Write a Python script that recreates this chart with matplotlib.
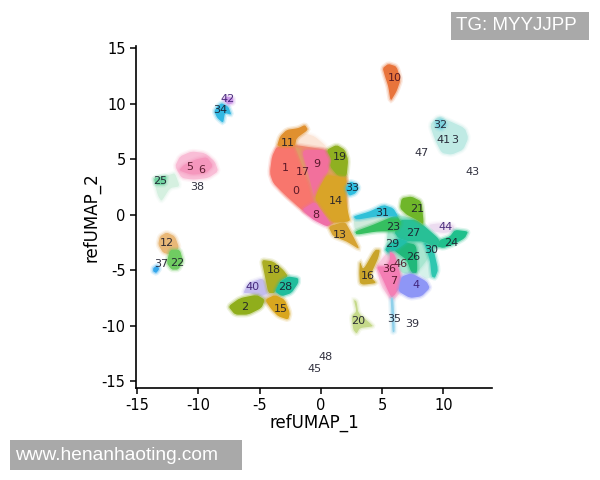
import matplotlib
matplotlib.use('Agg')
import matplotlib.pyplot as plt
from matplotlib.path import Path
from matplotlib.patches import PathPatch, Rectangle

plt.rcParams['axes.unicode_minus'] = False

# cluster outlines (refUMAP_1, refUMAP_2)
c0 = [(-3.6, 6.15), (-4.0, 5.25), (-4.17, 3.75), (-3.9, 2.85), (-3.08, 1.95), (-1.58, 0.45), (-0.9, 0), (-0.49, 1.2), (-0.9, 2.85), (-1.58, 4.65), (-2.12, 6.15)]
c11 = [(-3.6, 6.15), (-3.35, 7.05), (-2.8, 7.65), (-1.85, 7.8), (-1.3, 8.1), (-1.04, 7.65), (-1.99, 6.9), (-2.12, 6.15)]
c17 = [(-2.12, 6.15), (-1.58, 5.85), (-1.04, 3.75), (-0.49, 1.65), (-0.49, 1.2), (-0.9, 2.85), (-1.58, 4.65)]
c9 = [(-1.58, 5.85), (0.46, 5.85), (0.87, 4.95), (0.46, 3.6), (-0.22, 2.25), (-0.49, 1.3), (-1.04, 3.75)]
c_top = [(-1.99, 6.9), (-1.31, 7.35), (-0.49, 7.05), (0.46, 6.15), (0.46, 5.7), (-1.58, 5.7), (-2.0, 6.2)]
c19 = [(0.46, 5.85), (1.28, 6.3), (1.96, 5.85), (2.23, 4.95), (2.1, 3.45), (1.41, 3.45), (0.74, 4.35), (0.87, 4.95)]
c14 = [(0.46, 3.6), (1.41, 3.45), (2.1, 3.3), (1.96, 1.95), (2.23, 0.15), (2.4, -0.6), (1.0, -0.75), (0.06, 0.3), (-0.49, 1.5), (-0.22, 2.25)]
c8 = [(-1.58, 0.45), (-0.49, 1.2), (0.19, 0.15), (0.87, -0.9), (0.46, -1.05), (-0.63, -0.45)]
c13 = [(0.6, -1.05), (1.96, -0.6), (2.5, -1.65), (3.19, -3.15), (2.1, -2.4), (1.0, -1.95)]
c33 = [(2.0, 2.4), (2.4, 3.0), (2.9, 2.8), (3.1, 2.4), (2.8, 1.9), (2.3, 1.7)]
c21 = [(6.59, 1.5), (7.4, 1.65), (8.22, 1.2), (8.41, -0.9), (7.81, -0.45), (7.0, 0), (6.45, 0.6)]
c44 = [(8.77, -0.9), (9.72, -0.75), (10.81, -0.9), (10.94, -1.5), (9.99, -1.65), (9.17, -1.5)]
c24 = [(10.94, -1.35), (12.03, -1.5), (11.76, -2.1), (10.81, -2.7), (9.99, -3.0), (9.45, -2.85), (9.72, -2.25), (10.54, -1.95)]
c27 = [(6.45, -0.45), (7.81, -0.45), (8.49, -1.05), (9.72, -2.25), (9.45, -3.0), (8.36, -2.4), (7.13, -2.4), (6.32, -2.1), (6.0, -1.6)]
c30 = [(8.36, -2.4), (9.17, -3.0), (9.58, -4.95), (9.31, -5.7), (9.04, -5.55), (8.9, -4.05)]
c26 = [(6.59, -2.4), (7.81, -2.7), (7.87, -5.25), (7.4, -5.25), (7.0, -4.05), (5.91, -3.15)]
c29 = [(6.32, -2.1), (7.13, -2.4), (6.18, -3.15), (5.5, -3.45), (5.23, -3.15), (5.5, -2.7)]
c_band = [(2.64, -0.15), (5.64, -0.15), (6.5, -0.6), (5.0, -1.2), (2.78, -1.5)]
c23 = [(2.78, -1.5), (4.27, -0.9), (6.18, 0), (6.59, -0.75), (6.18, -1.5), (4.55, -1.5), (2.91, -1.8)]
c31 = [(2.64, -0.15), (4.0, 0.3), (5.09, 0.9), (5.91, 0.6), (6.32, -0.15), (5.64, -0.15), (4.55, -0.15), (2.91, -0.45)]
c16 = [(3.18, -4.2), (3.46, -4.95), (4.41, -3.15), (4.82, -3.15), (4.68, -3.9), (4.0, -5.55), (4.55, -6.15), (3.46, -6.3), (3.18, -6.15), (3.13, -5.25)]
c36 = [(5.63, -3.3), (6.04, -3.6), (6.45, -5.25), (6.59, -6.3), (6.04, -7.2), (5.77, -7.5), (5.5, -6.9), (4.95, -5.55), (4.55, -4.65), (5.36, -4.65), (5.63, -4.05)]
c4 = [(6.59, -5.55), (7.4, -5.25), (8.63, -6.0), (8.9, -6.6), (8.22, -7.35), (7.27, -7.5), (6.32, -6.9), (6.45, -6.15)]
c35 = [(5.69, -7.5), (5.91, -7.5), (6.04, -10.5), (5.85, -10.6), (5.77, -9.15)]
c20 = [(2.69, -7.65), (2.91, -7.8), (3.05, -8.85), (4.0, -9.75), (4.27, -10.05), (3.18, -10.2), (2.91, -10.71), (2.64, -10.35), (2.5, -9.15), (2.91, -8.7)]
c5 = [(-11.92, 4.36), (-11.52, 5.26), (-10.56, 5.71), (-9.47, 5.56), (-8.66, 4.81), (-8.38, 3.91), (-9.2, 3.31), (-10.43, 3.16), (-11.38, 3.31)]
c6 = [(-10.2, 5.0), (-9.3, 5.2), (-8.8, 4.4), (-9.4, 3.7), (-10.6, 3.6), (-11.6, 4.0), (-11.2, 4.5)]
c25_pale = [(-13.64, 3.31), (-12.33, 3.61), (-11.92, 3.76), (-11.52, 2.56), (-12.33, 2.41), (-13.01, 1.21), (-13.29, 1.66), (-13.56, 2.71)]
c25 = [(-13.64, 3.31), (-12.6, 3.5), (-12.7, 2.7), (-13.5, 2.7)]
c12 = [(-13.15, -1.94), (-12.6, -1.58), (-11.92, -1.94), (-11.57, -2.99), (-12.2, -3.59), (-12.88, -3.44), (-13.29, -2.69)]
c22 = [(-12.33, -3.14), (-11.52, -3.14), (-11.24, -4.19), (-11.65, -4.94), (-12.2, -4.94), (-12.6, -4.34)]
c37 = [(-13.7, -4.8), (-13.35, -4.55), (-13.2, -4.9), (-13.45, -5.25), (-13.7, -5.1)]
c34 = [(-8.47, 9.76), (-8.11, 10.06), (-7.57, 9.76), (-7.3, 9.01), (-7.84, 9.16), (-7.98, 8.26), (-8.47, 8.71), (-8.71, 9.31)]
c42 = [(-7.98, 10.36), (-7.7, 10.66), (-7.16, 10.51), (-7.16, 10.06), (-7.57, 9.91)]
c18 = [(-4.85, -4.05), (-3.89, -4.2), (-3.08, -4.95), (-2.67, -5.55), (-3.35, -6.0), (-3.76, -7.05), (-4.3, -7.05), (-4.57, -5.55)]
c28 = [(-3.35, -6.0), (-2.67, -5.55), (-1.85, -5.7), (-1.85, -6.15), (-2.4, -7.05), (-3.21, -7.35), (-3.76, -6.9)]
c40 = [(-6.34, -7.05), (-5.94, -6.15), (-4.71, -5.7), (-4.3, -7.05), (-4.98, -7.35), (-5.8, -7.05)]
c2 = [(-7.57, -8.25), (-6.62, -7.5), (-5.25, -7.2), (-4.57, -7.65), (-4.85, -8.4), (-5.94, -9.0), (-7.02, -9.0)]
c15 = [(-4.57, -7.65), (-3.76, -7.2), (-2.94, -7.65), (-2.53, -8.85), (-2.67, -9.45), (-3.48, -9.15), (-4.03, -8.55)]
c10 = [(5.04, 13.21), (5.5, 13.6), (6.18, 13.36), (6.51, 12.16), (6.18, 11.11), (5.69, 10.21), (5.5, 11.56), (5.23, 12.46)]
c3 = [(9.59, 8.86), (10.27, 8.56), (11.76, 7.81), (12.04, 6.91), (11.63, 5.86), (10.67, 5.41), (9.86, 5.56), (9.31, 6.76), (8.9, 8.11)]
c32 = [(9.31, 8.4), (9.86, 8.7), (10.27, 8.1), (9.86, 7.65), (9.45, 7.8)]
# pale fans between the dense arms
c_fan = [(7.8, -2.6), (9.1, -3.0), (9.2, -5.5), (8.6, -5.8), (7.9, -5.2)]
c_fan2 = [(4.5, -4.6), (5.5, -3.3), (6.6, -4.8), (6.5, -7.0), (5.8, -7.8), (4.9, -6.4)]
# backing under the touching clusters, so no white shows between them
back_main = [(-3.6, 6.15), (-2.12, 6.3), (0.46, 5.85), (1.5, 4.5), (2.1, 3.3), (2.0, 0.5), (0.9, -1.0), (-0.9, 0.0), (-3.08, 1.95), (-4.1, 3.75)]
back_main2 = [(-1.58, 5.8), (0.6, 5.8), (2.1, 3.6), (2.1, 0.2), (0.5, -0.8), (-0.7, 0.6), (-0.7, 3.0)]
back_right = [(6.4, 0.0), (7.8, -0.4), (9.6, -2.2), (9.4, -3.0), (7.8, -5.3), (6.6, -5.3), (5.3, -3.3), (5.5, -1.0)]
back_left = [(-5.0, -6.0), (-3.4, -6.0), (-3.4, -7.4), (-4.2, -8.2), (-5.2, -7.6)]

# cluster number labels
label_names = ['0', '1', '17', '9', '11', '19', '33', '14', '8', '13', '10', '32', '41', '3', '47', '43', '31', '21', '23', '27', '29', '44', '30', '24', '26', '46', '36', '7', '16', '4', '35', '39', '20', '18', '28', '40', '2', '15', '48', '45', '42', '34', '5', '6', '25', '38', '12', '22', '37']
label_x = [-2.04, -2.94, -1.47, -0.33, -2.71, 1.55, 2.53, 1.23, -0.41, 1.55, 6.03, 9.72, 10.05, 10.95, 8.25, 12.34, 4.98, 7.84, 5.88, 7.52, 5.8, 10.15, 8.98, 10.62, 7.5, 6.5, 5.6, 5.95, 3.86, 7.77, 5.96, 7.43, 3.02, -3.8, -2.9, -5.56, -6.2, -3.3, 0.4, -0.5, -7.6, -8.2, -10.7, -9.7, -13.1, -10.06, -12.6, -11.7, -13.0]
label_y = [2.16, 4.23, 3.87, 4.59, 6.49, 5.23, 2.43, 1.26, 0, -1.8, 12.34, 8.11, 6.76, 6.76, 5.59, 3.87, 0.18, 0.54, -1.08, -1.62, -2.61, -1.08, -3.15, -2.52, -3.78, -4.4, -4.85, -5.95, -5.5, -6.31, -9.37, -9.82, -9.55, -5, -6.5, -6.5, -8.3, -8.5, -12.8, -13.9, 10.4, 9.4, 4.3, 4.0, 3.05, 2.5, -2.5, -4.3, -4.4]
purple_labels = ['42', '44', '40', '4']
maroon_labels = ['0', '1', '17', '9', '8', '5', '6', '36', '46', '7', '10']

ticks = [-15, -10, -5, 0, 5, 10, 15]
xticks = [-15, -10, -5, 0, 5, 10]

# drawing order, pale stuff first
blobs = [
    (c_top, '#fbe6d8'), (c_band, '#cfeadb'), (c_fan, '#d6f2ea'), (c_fan2, '#f9c9df'), (c3, '#bfeae4'), (c32, '#7fd3de'),
    (c5, '#f9bdd6'), (c6, '#f597bd'), (c25_pale, '#d5f0e0'), (c25, '#6fd3a0'),
    (back_main, '#f08a6e'), (back_main2, '#e0a060'), (back_right, '#a8e6d0'), (back_left, '#e3dcee'),
    (c0, '#f8766d'), (c11, '#e0902f'), (c17, '#e09a66'), (c9, '#f2709c'),
    (c19, '#8fb021'), (c14, '#d9a428'), (c8, '#ef6fa8'), (c13, '#d6a332'), (c33, '#2fbfe0'),
    (c44, '#ecdcf0'), (c30, '#2fc7b0'), (c26, '#20b87a'), (c24, '#20c08c'), (c27, '#28c096'),
    (c23, '#35bf60'), (c31, '#30c0d8'), (c29, '#22bfa8'), (c21, '#6fb62a'),
    (c16, '#c9a42a'), (c36, '#f47eb4'), (c4, '#8e96f6'), (c35, '#8fd0ea'), (c20, '#c5d98a'),
    (c12, '#e9b878'), (c22, '#70cc62'), (c37, '#35a8ec'), (c34, '#32b8e2'), (c42, '#cc99e8'),
    (c40, '#c4bcee'), (c18, '#abae24'), (c28, '#20bd9c'), (c2, '#90ae1c'), (c15, '#d9a61e'),
    (c10, '#e8743c'),
]


def round_path(pts, cut=0.25):
    """Closed outline with straight sides and only the corners rounded off."""
    verts = []
    codes = []
    n = len(pts)
    for i in range(n):
        px, py = pts[i]
        ax_, ay_ = pts[i - 1]
        bx, by = pts[(i + 1) % n]
        verts.append((px + cut * (ax_ - px), py + cut * (ay_ - py)))
        codes.append(Path.MOVETO if i == 0 else Path.LINETO)
        verts += [(px, py), (px + cut * (bx - px), py + cut * (by - py))]
        codes += [Path.CURVE3, Path.CURVE3]
    verts.append(verts[0])
    codes.append(Path.CLOSEPOLY)
    return Path(verts, codes)


fig = plt.figure(figsize=(6, 4.8), dpi=100)
ax = fig.add_axes([136 / 600, 1 - 388 / 480, (492 - 136) / 600, (388 - 46) / 480])

for pts, color in blobs:
    path = round_path(pts)
    # soft edge
    ax.add_patch(PathPatch(path, facecolor='none', edgecolor=color, linewidth=4, alpha=0.15))
    ax.add_patch(PathPatch(path, facecolor='none', edgecolor=color, linewidth=2, alpha=0.3))
    ax.add_patch(PathPatch(path, facecolor=color, edgecolor='none'))

for name, x, y in zip(label_names, label_x, label_y):
    color = '#1a1a2a'
    if name in purple_labels:
        color = '#3a1a70'
    elif name in maroon_labels:
        color = '#4a0f20'
    ax.text(x, y, name, fontsize=8, ha='center', va='center', color=color, alpha=0.9)

ax.set_xlim(-15.1, 13.97)
ax.set_ylim(-15.6, 15.2)
ax.set_xticks(xticks)
ax.set_yticks(ticks)
ax.tick_params(labelsize=10.5, width=1.1, length=4)
ax.set_xlabel('refUMAP_1', fontsize=12, labelpad=0)
ax.set_ylabel('refUMAP_2', fontsize=12, labelpad=1)
ax.spines['top'].set_visible(False)
ax.spines['right'].set_visible(False)
ax.spines['left'].set_linewidth(1.2)
ax.spines['bottom'].set_linewidth(1.2)

# watermarks
fig.patches.append(Rectangle((451 / 600, 1 - 40 / 480), 138 / 600, 28 / 480, transform=fig.transFigure, facecolor='#a9a9a9', edgecolor='none'))
fig.patches.append(Rectangle((10 / 600, 1 - 470 / 480), 232 / 600, 30 / 480, transform=fig.transFigure, facecolor='#a9a9a9', edgecolor='none'))
fig.text(456 / 600, 1 - 26 / 480, 'TG: MYYJJPP', fontsize=13.5, color='white', family='Liberation Sans', va='center')
fig.text(15 / 600, 1 - 455 / 480, 'www.henanhaoting.com', fontsize=13.8, color='white', family='Liberation Sans', va='center')

plt.savefig('out.png', dpi=100)
